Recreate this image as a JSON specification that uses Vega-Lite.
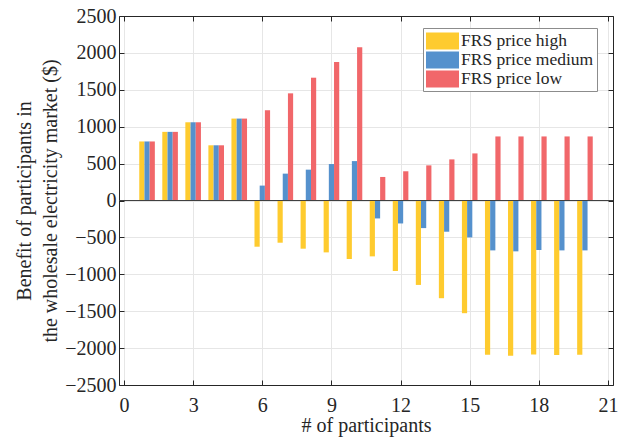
{
  "$schema": "https://vega.github.io/schema/vega-lite/v6.json",
  "width": 494,
  "height": 369,
  "autosize": {"type": "none"},
  "padding": {"left": 119, "top": 16, "right": 20, "bottom": 57},
  "background": "white",
  "config": {
    "font": "Times New Roman",
    "view": {"stroke": null},
    "axis": {
      "labelFont": "Times New Roman",
      "titleFont": "Times New Roman",
      "domainColor": "#262626",
      "tickColor": "#262626",
      "gridColor": "#e6e6e6",
      "labelFontSize": 20,
      "labelColor": "#262626",
      "titleFontSize": 20,
      "titleFontWeight": "normal",
      "titleColor": "#262626",
      "tickSize": -5,
      "labelPadding": 8
    }
  },
  "data": {
    "values": [
      {"n": 1, "series": "FRS price high", "value": 800},
      {"n": 1, "series": "FRS price medium", "value": 800},
      {"n": 1, "series": "FRS price low", "value": 800},
      {"n": 2, "series": "FRS price high", "value": 930},
      {"n": 2, "series": "FRS price medium", "value": 930},
      {"n": 2, "series": "FRS price low", "value": 930},
      {"n": 3, "series": "FRS price high", "value": 1060},
      {"n": 3, "series": "FRS price medium", "value": 1060},
      {"n": 3, "series": "FRS price low", "value": 1060},
      {"n": 4, "series": "FRS price high", "value": 748},
      {"n": 4, "series": "FRS price medium", "value": 748},
      {"n": 4, "series": "FRS price low", "value": 748},
      {"n": 5, "series": "FRS price high", "value": 1110},
      {"n": 5, "series": "FRS price medium", "value": 1110},
      {"n": 5, "series": "FRS price low", "value": 1110},
      {"n": 6, "series": "FRS price high", "value": -626},
      {"n": 6, "series": "FRS price medium", "value": 202},
      {"n": 6, "series": "FRS price low", "value": 1223},
      {"n": 7, "series": "FRS price high", "value": -572},
      {"n": 7, "series": "FRS price medium", "value": 364},
      {"n": 7, "series": "FRS price low", "value": 1452},
      {"n": 8, "series": "FRS price high", "value": -653},
      {"n": 8, "series": "FRS price medium", "value": 418},
      {"n": 8, "series": "FRS price low", "value": 1664},
      {"n": 9, "series": "FRS price high", "value": -703},
      {"n": 9, "series": "FRS price medium", "value": 494},
      {"n": 9, "series": "FRS price low", "value": 1876},
      {"n": 10, "series": "FRS price high", "value": -793},
      {"n": 10, "series": "FRS price medium", "value": 534},
      {"n": 10, "series": "FRS price low", "value": 2078},
      {"n": 11, "series": "FRS price high", "value": -757},
      {"n": 11, "series": "FRS price medium", "value": -243},
      {"n": 11, "series": "FRS price low", "value": 319},
      {"n": 12, "series": "FRS price high", "value": -955},
      {"n": 12, "series": "FRS price medium", "value": -311},
      {"n": 12, "series": "FRS price low", "value": 396},
      {"n": 13, "series": "FRS price high", "value": -1144},
      {"n": 13, "series": "FRS price medium", "value": -374},
      {"n": 13, "series": "FRS price low", "value": 476},
      {"n": 14, "series": "FRS price high", "value": -1324},
      {"n": 14, "series": "FRS price medium", "value": -423},
      {"n": 14, "series": "FRS price low", "value": 557},
      {"n": 15, "series": "FRS price high", "value": -1527},
      {"n": 15, "series": "FRS price medium", "value": -500},
      {"n": 15, "series": "FRS price low", "value": 638},
      {"n": 16, "series": "FRS price high", "value": -2090},
      {"n": 16, "series": "FRS price medium", "value": -676},
      {"n": 16, "series": "FRS price low", "value": 868},
      {"n": 17, "series": "FRS price high", "value": -2104},
      {"n": 17, "series": "FRS price medium", "value": -689},
      {"n": 17, "series": "FRS price low", "value": 868},
      {"n": 18, "series": "FRS price high", "value": -2086},
      {"n": 18, "series": "FRS price medium", "value": -671},
      {"n": 18, "series": "FRS price low", "value": 868},
      {"n": 19, "series": "FRS price high", "value": -2095},
      {"n": 19, "series": "FRS price medium", "value": -676},
      {"n": 19, "series": "FRS price low", "value": 868},
      {"n": 20, "series": "FRS price high", "value": -2090},
      {"n": 20, "series": "FRS price medium", "value": -676},
      {"n": 20, "series": "FRS price low", "value": 868}
    ]
  },
  "layer": [
    {
      "encoding": {
        "x": {
          "field": "n",
          "type": "quantitative",
          "scale": {"domain": [0, 21], "nice": false, "zero": false},
          "axis": {
            "values": [0, 3, 6, 9, 12, 15, 18, 21],
            "format": "d",
            "labelFont": "Times New Roman",
            "labelPadding": 15,
            "title": "# of participants",
            "titlePadding": 0
          }
        },
        "y": {
          "field": "value",
          "type": "quantitative",
          "stack": null,
          "scale": {"domain": [-2500, 2500], "nice": false},
          "axis": {
            "values": [-2500, -2000, -1500, -1000, -500, 0, 500, 1000, 1500, 2000, 2500],
            "format": "d",
            "labelFont": "Times New Roman",
            "labelPadding": 8,
            "title": ["Benefit of participants in", "the wholesale electricity market ($)"],
            "titleLineHeight": 26,
            "titlePadding": 4
          }
        },
        "color": {
          "field": "series",
          "type": "nominal",
          "scale": {
            "domain": ["FRS price high", "FRS price medium", "FRS price low"],
            "range": ["#FECB2F", "#5591CD", "#F1676A"]
          },
          "legend": {
            "title": null,
            "orient": "none",
            "legendX": 304,
            "legendY": 12,
            "direction": "vertical",
            "fillColor": "white",
            "strokeColor": "#8c8c8c",
            "padding": 3,
            "symbolType": "M-1,-0.85H2.3V0.85H-1Z",
            "symbolSize": 400,
            "symbolStrokeWidth": 0,
            "symbolOpacity": 1,
            "rowPadding": 0,
            "labelFont": "Times New Roman",
            "labelFontSize": 17.5,
            "labelColor": "#262626",
            "labelOffset": 15
          }
        }
      },
      "layer": [
        {
          "transform": [{"filter": {"field": "series", "equal": "FRS price high"}}],
          "mark": {"type": "bar", "width": 5.2, "xOffset": -5.2}
        },
        {
          "transform": [{"filter": {"field": "series", "equal": "FRS price medium"}}],
          "mark": {"type": "bar", "width": 5.2}
        },
        {
          "transform": [{"filter": {"field": "series", "equal": "FRS price low"}}],
          "mark": {"type": "bar", "width": 5.2, "xOffset": 5.2}
        }
      ]
    },
    {
      "mark": {"type": "rule", "color": "#404040", "strokeWidth": 1},
      "encoding": {"y": {"datum": 0, "type": "quantitative", "axis": null}}
    },
    {
      "mark": {"type": "point", "opacity": 0},
      "encoding": {
        "x": {
          "field": "n",
          "type": "quantitative",
          "axis": {"orient": "top", "values": [0, 3, 6, 9, 12, 15, 18, 21], "labels": false, "title": null, "grid": false}
        },
        "y": {
          "field": "value",
          "type": "quantitative",
          "axis": {"orient": "right", "values": [-2500, -2000, -1500, -1000, -500, 0, 500, 1000, 1500, 2000, 2500], "labels": false, "title": null, "grid": false}
        }
      }
    }
  ],
  "resolve": {"axis": {"x": "independent", "y": "independent"}}
}
